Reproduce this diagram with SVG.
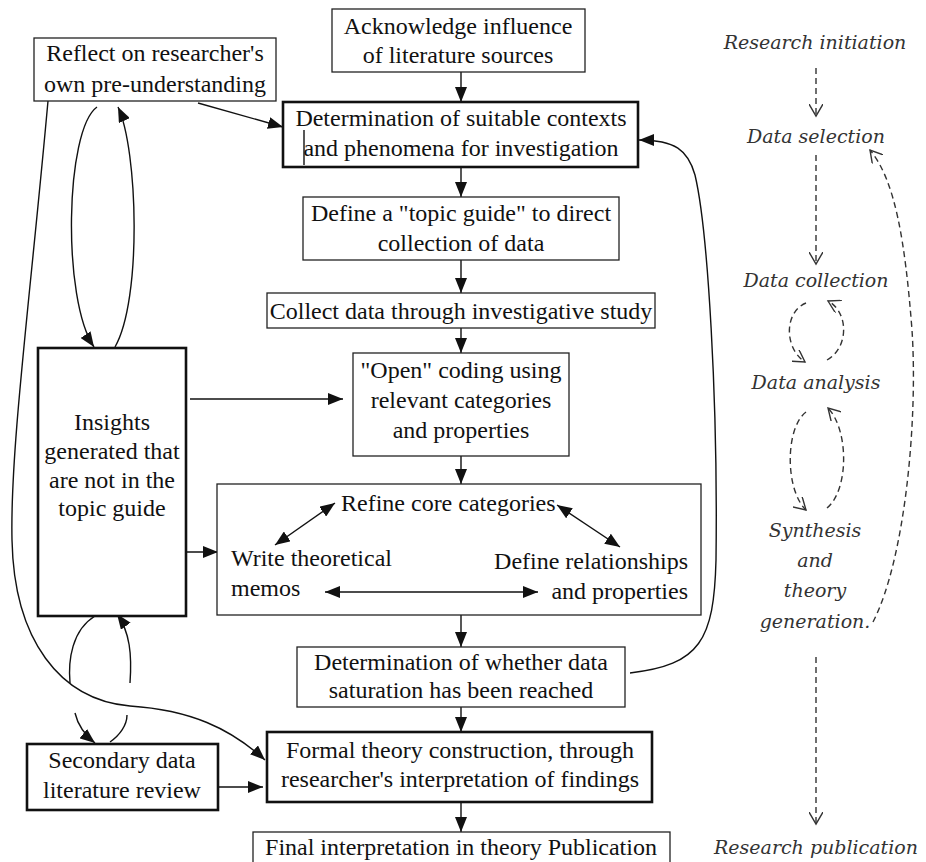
<svg xmlns="http://www.w3.org/2000/svg" width="926" height="862" viewBox="0 0 926 862" font-family="Liberation Serif, serif">
<style>
.box{fill:#fff;stroke:#222;stroke-width:1.3}
.thick{fill:#fff;stroke:#111;stroke-width:2.6}
.t{font-size:24px;fill:#111;text-anchor:middle}
.l{text-anchor:start}
.r{text-anchor:end}
.it{font-style:italic;font-size:19px;fill:#333;text-anchor:middle}
.c{fill:none;stroke:#111;stroke-width:1.4}
.a{marker-end:url(#ah)}
.d{fill:none;stroke:#333;stroke-width:1.4;stroke-dasharray:6,4;marker-end:url(#oh)}
</style>
<defs>
<marker id="ah" markerUnits="userSpaceOnUse" markerWidth="15" markerHeight="12" refX="15" refY="6" orient="auto-start-reverse"><path d="M0,0 L15,6 L0,12 z" fill="#111"/></marker>
<marker id="oh" markerUnits="userSpaceOnUse" markerWidth="14" markerHeight="14" refX="12" refY="7" orient="auto"><path d="M0,0 L12,7 L0,14" fill="none" stroke="#333" stroke-width="1.4" stroke-dasharray="none"/></marker>
</defs>
<rect width="926" height="862" fill="#fff"/>

<g id="connectors">
<line class="c a" x1="461" y1="72" x2="461" y2="102"/>
<line class="c a" x1="461" y1="167" x2="461" y2="197"/>
<line class="c a" x1="461" y1="260" x2="461" y2="293"/>
<line class="c a" x1="461" y1="328" x2="461" y2="353"/>
<line class="c a" x1="461" y1="456" x2="461" y2="484"/>
<line class="c a" x1="461" y1="615" x2="461" y2="647"/>
<line class="c a" x1="461" y1="707" x2="461" y2="732"/>
<line class="c a" x1="461" y1="802" x2="461" y2="832"/>
<line class="c a" x1="198" y1="103" x2="283" y2="127"/>
<path class="c a" d="M48,101 C30,300 10,450 12,540 C14,640 60,700 130,706 C190,710 230,728 265,760"/>
<path class="c a" d="M97,107 C65,130 62,300 94,347"/>
<path class="c a" d="M115,347 C142,300 138,150 118,107"/>
<path class="c" d="M95,616 C72,630 68,660 70,683"/>
<path class="c a" d="M75,713 C78,726 85,735 95,743"/>
<path class="c" d="M110,742 C120,735 127,725 127,715"/>
<path class="c a" d="M130,683 C132,655 130,632 117,614"/>
<line class="c a" x1="190" y1="399" x2="343" y2="399"/>
<line class="c a" x1="183" y1="552" x2="218" y2="552"/>
<line class="c a" x1="218" y1="787" x2="263" y2="787"/>
<path class="c a" d="M630,673 C700,665 714,640 716,560 C718,400 708,230 695,175 C688,150 675,140 639,140"/>
<line class="d" x1="816" y1="68" x2="816" y2="116"/>
<line class="d" x1="816" y1="155" x2="816" y2="264"/>
<line class="d" x1="816" y1="657" x2="816" y2="824"/>
<path class="d" d="M806,303 C784,312 784,348 805,362"/>
<path class="d" d="M827,360 C849,348 849,312 828,301"/>
<path class="d" d="M806,412 C785,428 785,490 806,510"/>
<path class="d" d="M827,508 C849,490 849,430 828,408"/>
<path class="d" d="M873,622 C905,560 918,420 912,330 C905,240 895,180 870,150"/>
</g>

<g id="n-ack"><rect class="box" x="332" y="9" width="253" height="63"/>
<text class="t" x="458" y="34">Acknowledge influence</text><text class="t" x="458" y="63">of literature sources</text></g>
<g id="n-reflect"><rect class="box" x="34" y="38" width="242" height="63"/>
<text class="t" x="155" y="61">Reflect on researcher's</text><text class="t" x="155" y="92">own pre-understanding</text></g>
<g id="n-det"><rect class="thick" x="283" y="102" width="355" height="65"/>
<text class="t" x="461" y="126">Determination of suitable contexts</text><text class="t" x="461" y="156">and phenomena for investigation</text>
<line class="c" x1="304" y1="130" x2="304" y2="165"/></g>
<g id="n-topic"><rect class="box" x="303" y="197" width="316" height="63"/>
<text class="t" x="461" y="221">Define a "topic guide" to direct</text><text class="t" x="461" y="251">collection of data</text></g>
<g id="n-collect"><rect class="box" x="267" y="293" width="388" height="35"/>
<text class="t" x="461" y="319">Collect data through investigative study</text></g>
<g id="n-open"><rect class="box" x="353" y="353" width="216" height="103"/>
<text class="t" x="461" y="378">"Open" coding using</text><text class="t" x="461" y="408">relevant categories</text><text class="t" x="461" y="438">and properties</text></g>
<g id="n-insights"><rect class="thick" x="38" y="348" width="148" height="268"/>
<text class="t" x="112" y="430">Insights</text><text class="t" x="112" y="459">generated that</text><text class="t" x="112" y="488">are not in the</text><text class="t" x="112" y="516">topic guide</text></g>
<g id="n-refine"><rect class="box" x="217" y="484" width="484" height="131"/>
<text class="t l" x="341" y="511">Refine core categories</text>
<text class="t l" x="231" y="566">Write theoretical</text><text class="t l" x="231" y="596">memos</text>
<text class="t r" x="688" y="569">Define relationships</text><text class="t r" x="688" y="599">and properties</text>
<line class="c a" x1="275" y1="545" x2="335" y2="503" marker-start="url(#ah)"/>
<line class="c a" x1="557" y1="505" x2="620" y2="547" marker-start="url(#ah)"/>
<line class="c a" x1="325" y1="592" x2="538" y2="592" marker-start="url(#ah)"/></g>
<g id="n-saturation"><rect class="box" x="297" y="647" width="328" height="60"/>
<text class="t" x="461" y="670">Determination of whether data</text><text class="t" x="461" y="698">saturation has been reached</text></g>
<g id="n-formal"><rect class="thick" x="267" y="732" width="385" height="70"/>
<text class="t" x="460" y="758">Formal theory construction, through</text><text class="t" x="460" y="787">researcher's interpretation of findings</text></g>
<g id="n-secondary"><rect class="thick" x="27" y="744" width="191" height="66"/>
<text class="t" x="122" y="768">Secondary data</text><text class="t" x="122" y="798">literature review</text></g>
<g id="n-final"><rect class="box" x="253" y="832" width="417" height="40"/>
<text class="t" x="461" y="855">Final interpretation in theory Publication</text></g>

<g id="stages" font-family="DejaVu Serif, serif">
<text class="it" x="815" y="49">Research initiation</text>
<text class="it" x="816" y="143">Data selection</text>
<text class="it" x="816" y="287">Data collection</text>
<text class="it" x="816" y="389">Data analysis</text>
<text class="it" x="815" y="537">Synthesis</text>
<text class="it" x="815" y="567">and</text>
<text class="it" x="815" y="597">theory</text>
<text class="it" x="815" y="628">generation.</text>
<text class="it" x="816" y="854">Research publication</text>
</g>
</svg>
